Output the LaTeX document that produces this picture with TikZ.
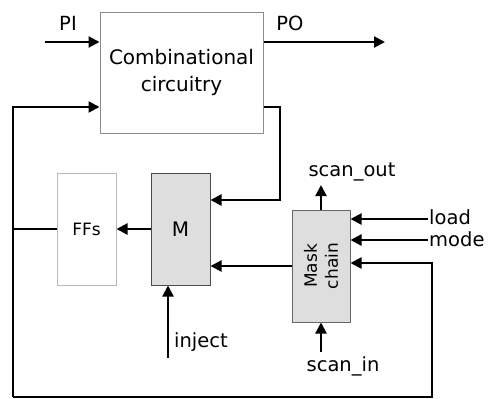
\documentclass[tikz,border=0pt]{standalone}
\usepackage{fontspec}
\setmainfont{DejaVu Sans}
\usetikzlibrary{arrows.meta}
\definecolor{boxgray}{HTML}{DEDEDE}
\tikzset{
  arr/.style={line width=2.2pt,line join=miter,-{Triangle[length=11pt,width=11pt]}},
  wire/.style={line width=2.2pt},
  blk/.style={draw, line width=1pt, inner sep=0pt},
  lbl/.style={inner sep=0pt, font=\fontsize{19.5}{23}\selectfont}
}
\begin{document}
\begin{tikzpicture}[x=1pt,y=-1pt]
\useasboundingbox (0,0) rectangle (488,399);
% blocks
\node[blk, draw=gray!90, minimum width=163pt, minimum height=121pt, align=center,
      font=\fontsize{20}{27}\selectfont] (comb) at (181.5,72.5) {Combinational\\circuitry};
\node[blk, draw=gray!55, minimum width=59pt, minimum height=112pt,
      font=\fontsize{17}{20}\selectfont] (ffs) at (86.5,229) {FFs};
\node[blk, draw=black!70, fill=boxgray, minimum width=59pt, minimum height=112pt,
      font=\fontsize{20}{23}\selectfont] (m) at (180.5,229) {M};
\node[blk, draw=black!60, fill=boxgray, minimum width=58pt, minimum height=112pt] (mask) at (321,266) {};
\node[rotate=90, align=center, inner sep=0pt, font=\fontsize{17}{21}\selectfont] (masktxt) at (mask.center) {Mask\\chain};
% coordinates
\coordinate (pi) at (45,42);
\coordinate (po) at (385,42);
\coordinate (tl) at (13,107);
\coordinate (bl) at (13,397);
\coordinate (br) at (432,397);
\coordinate (cr) at (280,200);
\coordinate (fb) at (432,263);
\coordinate (inj) at (168,358);
\coordinate (so) at (321,185);
\coordinate (si) at (321,352);
\coordinate (ld) at (428,219);
\coordinate (md) at (428,240);
% labels
\node[lbl] (pil) at (68,23) {PI};
\node[lbl] (pol) at (290,23) {PO};
\node[lbl] (sol) at (352,172) {scan\_out};
\node[lbl] (sil) at (343,366) {scan\_in};
\node[lbl, anchor=west] (ldl) at (429,217) {load};
\node[lbl, anchor=west] (mdl) at (429,239) {mode};
\node[lbl, anchor=west] (injl) at (174,342) {inject};
% connectors
\draw[arr] (pi) -- (comb.west |- pi);
\draw[arr] (comb.east |- po) -- (po);
\draw[arr] (bl) -- (tl) -- (comb.west |- tl);
\draw[wire] (ffs.west) -- (ffs.west -| bl);
\draw[arr] (bl) -- (br) -- (fb) -- (mask.east |- fb);
\draw[arr] (comb.east |- tl) -| (cr) -- (m.east |- cr);
\draw[arr] (mask.west) -- (m.east |- mask.west);
\draw[arr] (m.west) -- (ffs.east);
\draw[arr] (inj) -- (m.south -| inj);
\draw[arr] (mask.north) -- (so);
\draw[arr] (si) -- (mask.south);
\draw[arr] (ld) -- (mask.east |- ld);
\draw[arr] (md) -- (mask.east |- md);
\end{tikzpicture}
\end{document}
